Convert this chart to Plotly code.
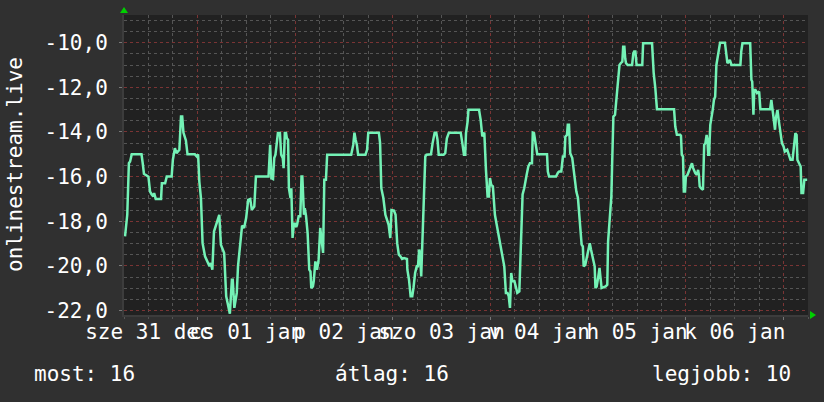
import pandas as pd
import plotly.graph_objects as go

# ---------------- data ----------------
START = "2025-12-31 06:00"
END = "2026-01-07 06:00"

HOURS = [
    0.25, 0.5, 0.8, 1.2, 1.5, 1.9, 4.3, 4.6, 4.9, 6.0, 6.4, 6.8, 7.2, 7.4, 7.8, 9.1, 9.3, 10.1, 10.5, 11.7,
    12.0, 12.5, 12.9, 13.6, 14.0, 14.3, 14.6, 15.2, 15.6, 17.4, 17.9, 18.2, 18.5, 18.9, 19.3, 19.9, 20.6,
    21.0, 21.3, 21.7, 22.1, 22.8, 23.4, 23.8, 24.6, 25.1, 25.6, 26.0, 26.5, 26.7, 27.1, 27.7, 28.0, 28.5,
    29.0, 29.5, 30.0, 30.5, 31.0, 31.4, 32.0, 32.4, 34.6,
    35.5, 35.9, 36.2, 36.6, 36.9, 37.2, 37.6, 37.8, 38.3, 38.6, 39.0, 39.2, 39.5, 39.8, 40.0, 40.3, 40.5,
    40.9, 41.1, 41.4, 41.7, 41.9, 42.3, 42.5, 42.9, 43.3, 43.6, 43.8, 44.2, 44.4, 44.7, 45.1, 45.5, 45.8,
    46.0, 46.4, 46.6, 47.0, 47.4, 47.8, 48.2, 48.6, 48.9, 49.2, 49.6, 49.9, 55.8, 56.3, 56.6, 56.9, 57.2,
    57.5, 59.3, 59.7, 60.0, 62.6, 62.9, 63.2, 63.7, 64.2, 64.7, 65.0, 65.4, 65.7, 66.3, 66.7, 67.1, 67.5,
    67.9, 68.3,
    68.8, 69.5, 69.6, 70.0, 70.4, 70.8, 71.1, 71.5, 71.9, 72.2, 72.5, 72.7, 73.0, 73.3, 73.5, 74.0, 74.3,
    75.4, 75.8, 76.3, 76.7, 77.0, 77.3, 78.5, 78.9, 79.3, 79.8, 82.7, 83.1, 83.5, 83.8, 84.0, 84.4, 84.6,
    87.2, 87.6, 88.0, 88.5, 88.9, 89.3, 89.6, 89.9, 90.2, 90.6, 91.1, 91.6, 92.0, 92.4, 93.0, 93.4, 93.8,
    94.2, 94.5, 94.8, 95.1, 95.4, 95.9, 96.2, 96.6, 97.1, 97.5, 97.9, 98.3, 98.7, 98.9, 99.3, 99.7, 100.2,
    100.4, 100.7, 101.2, 101.5, 103.9, 104.1, 104.4,
    106.1, 106.6, 106.9, 107.4, 107.8, 108.2, 108.4, 108.8, 109.0, 109.3, 109.6, 110.1, 110.4, 110.8,
    111.1, 111.5, 111.9, 112.4, 112.7, 112.9, 113.3, 113.7, 114.0, 114.4, 114.7, 115.2, 115.6, 115.8,
    116.1, 116.5, 116.8, 117.0, 117.3, 118.3, 118.7, 118.9, 119.2, 119.7, 119.9, 120.2, 120.6, 120.9,
    121.1, 121.4, 121.7, 122.0, 122.4, 122.6, 122.9, 123.1, 123.3, 123.7, 124.8, 125.1, 125.3, 125.6,
    125.9, 127.3, 127.5, 129.7, 130.1, 130.5, 130.9, 135.1, 135.4, 135.8, 136.6,
    136.8, 137.0, 137.3, 137.5, 137.8, 138.0, 138.4, 138.8, 139.2, 139.5, 139.8, 140.3, 140.7, 141.0,
    141.2, 141.4, 141.7, 142.0, 142.2, 142.5, 142.8, 143.1, 143.3, 143.5, 143.7, 144.0, 144.3, 144.6,
    144.9, 145.2, 145.5, 145.8, 146.1, 146.4, 147.6, 148.0, 148.2, 148.6, 148.8, 149.2, 151.4, 151.6,
    151.9, 153.8, 154.1, 154.3, 154.6, 154.8, 155.1, 155.5, 156.0, 156.3, 158.7, 159.0, 159.3, 159.5,
    159.9, 160.1, 160.5, 160.8, 161.2, 161.6, 162.0, 162.3, 162.9, 163.3, 163.7, 164.2, 164.6, 164.9,
    165.2, 165.4, 165.8, 166.2, 166.4, 166.8, 167.1, 167.4, 167.8,
]

VALUES = [
    -18.68, -18.2, -17.71, -15.4, -15.32, -15.0, -15.0, -15.4, -15.87, -16.0, -16.67, -16.8, -16.89, -16.74,
    -17.0, -17.0, -16.3, -16.3, -16.0, -16.0, -15.25, -14.73, -14.95, -14.8, -13.31, -13.31, -14.03, -14.38,
    -15.0, -15.0, -15.1, -15.0, -16.22, -16.96, -18.98, -19.57, -19.87, -20.02, -19.87, -20.17, -18.46,
    -18.0, -17.71, -19.05, -19.42, -21.36, -21.81, -22.14, -20.62, -20.62, -21.88, -21.21, -20.02, -19.13,
    -18.2, -18.3, -17.86, -17.04, -17.0, -17.49, -17.34, -16.0, -16.0,
    -16.0, -14.58, -16.07, -16.11, -15.17, -15.02, -14.5, -14.05, -14.05, -15.02, -15.17, -15.62, -14.05,
    -14.05, -14.28, -14.35, -16.52, -16.96, -16.52, -18.75, -18.16, -18.08, -18.26, -18.16, -17.78, -17.78,
    -16.0, -16.0, -17.71, -17.41, -17.75, -18.53, -20.17, -20.25, -20.99, -20.92, -20.69, -19.8, -20.17,
    -19.72, -18.3, -18.98, -19.42, -16.14, -16.14, -15.02, -15.02, -14.58, -14.03, -14.35, -14.58, -15.02,
    -15.02, -14.8, -14.03, -14.03, -14.5, -16.52, -16.96, -17.71, -18.0, -18.16, -18.75, -17.5, -17.52,
    -17.71, -18.98, -19.5, -19.57, -19.69,
    -19.65, -19.69, -20.17, -20.62, -21.36, -21.36, -20.99, -20.32, -20.02, -20.02, -19.27, -19.42, -20.47,
    -18.83, -17.41, -15.1, -15.02, -15.0, -14.5, -14.03, -14.03, -14.35, -15.02, -15.02, -14.95, -14.28,
    -14.03, -14.03, -14.5, -15.02, -15.02, -14.05, -13.53, -13.01, -13.01, -13.46, -14.2, -14.03, -15.7,
    -16.89, -16.89, -16.07, -16.37, -16.44, -17.71, -18.23, -18.53, -18.98, -19.72, -20.02, -21.21, -21.21,
    -21.36, -21.88, -20.32, -20.69, -20.69, -20.92, -21.21, -21.14, -18.98, -16.8, -16.52, -16.0, -15.92,
    -15.55, -15.4, -15.4, -14.03, -14.05, -14.73, -15.0, -15.0, -15.77, -16.0,
    -16.0, -15.82, -15.77, -15.77, -15.1, -15.1, -14.21, -14.13, -13.68, -13.68, -14.95, -15.17, -15.62,
    -16.07, -16.67, -16.96, -17.93, -19.05, -19.13, -20.02, -19.95, -19.57, -19.27, -18.98, -19.27, -19.72,
    -20.02, -20.99, -20.92, -20.47, -20.09, -20.47, -20.99, -20.92, -20.84, -18.9, -18.08, -16.89, -15.4,
    -13.31, -13.23, -12.56, -12.12, -11.3, -11.0, -10.92, -10.85, -10.18, -10.18, -10.7, -10.92, -11.0,
    -11.0, -10.47, -10.4, -10.4, -11.0, -11.0, -10.03, -10.03, -11.37, -12.04, -12.98, -12.98, -13.76,
    -14.13, -14.13,
    -14.17, -15.02, -15.1, -16.67, -16.67, -16.0, -15.92, -15.7, -15.47, -15.4, -15.62, -15.84, -15.92,
    -15.7, -15.92, -16.44, -16.52, -16.57, -16.59, -14.58, -14.5, -14.13, -14.35, -15.02, -15.02, -13.68,
    -13.38, -13.01, -12.56, -12.42, -11.0, -10.63, -10.47, -10.0, -10.0, -10.47, -10.92, -10.85, -10.77,
    -11.0, -11.0, -10.4, -10.03, -10.03, -11.67, -11.74, -13.23, -12.12, -12.12, -12.26, -12.19, -12.98,
    -12.98, -12.56, -12.98, -13.31, -13.9, -13.38, -13.01, -13.46, -13.98, -14.5, -14.65, -14.88, -14.8,
    -15.02, -15.25, -15.25, -14.65, -14.05, -14.13, -15.25, -15.4, -15.55, -16.74, -16.74, -16.14, -16.14,
    -16.14,
]

DAY_LABEL_DATES = ["2025-12-31", "2026-01-01", "2026-01-02", "2026-01-03",
                   "2026-01-04", "2026-01-05", "2026-01-06"]
DAY_LABELS = ["sze 31 dec", "cs 01 jan", "p 02 jan", "szo 03 jan",
              "v 04 jan", "h 05 jan", "k 06 jan"]

Y_TICKS = [-10, -12, -14, -16, -18, -20, -22]
Y_RANGE = [-22.2, -8.76]

SERIES_NAME = "onlinestream.live"
STAT_LABELS = ["most", "átlag", "legjobb"]
STAT_VALUES = [16, 16, 10]

# ---------------- build ----------------
FONT = "DejaVu Sans Mono"
FS = 21
TXT = "#ffffff"
PAPER = "#303030"
PLOTBG = "#212121"
MAJOR = "#7a3434"
MINOR = "#555555"
LINE = "#74f2b6"

t = pd.Timestamp(START) + pd.to_timedelta(HOURS, unit="h")
label_pos = [pd.Timestamp(d) + pd.Timedelta(hours=12) for d in DAY_LABEL_DATES]

fig = go.Figure()
fig.add_trace(go.Scatter(x=t, y=VALUES, mode="lines",
                         line=dict(color=LINE, width=2.5),
                         hoverinfo="skip", showlegend=False))
# carrier trace for the label axis
fig.add_trace(go.Scatter(x=label_pos, y=[None] * len(label_pos), xaxis="x2",
                         mode="lines", hoverinfo="skip", showlegend=False))

ms6h = 6 * 3600 * 1000
fig.update_layout(
    width=824, height=402,
    margin=dict(l=124, r=16, t=15, b=87),
    paper_bgcolor=PAPER, plot_bgcolor=PLOTBG,
    font=dict(family=FONT, size=FS, color=TXT),
    xaxis=dict(
        type="date", range=[START, END],
        tickmode="linear", tick0="2026-01-01", dtick=86400000,
        showgrid=True, gridcolor=MAJOR, griddash="dot", gridwidth=1,
        showticklabels=False, ticks="outside", ticklen=3, tickcolor="#777777",
        showline=True, linecolor="#3c3c3c", linewidth=2,
        zeroline=False,
        minor=dict(tickmode="linear", tick0="2026-01-01", dtick=ms6h,
                   showgrid=True, gridcolor=MINOR, griddash="dot", gridwidth=1,
                   ticks="outside", ticklen=2, tickcolor="#555555"),
    ),
    xaxis2=dict(
        type="date", overlaying="x", matches="x", side="bottom",
        tickmode="array", tickvals=label_pos, ticktext=DAY_LABELS,
        tickangle=0, showgrid=False, ticks="", zeroline=False, showline=False,
        tickfont=dict(family=FONT, size=FS, color=TXT), ticklabelstandoff=2,
    ),
    yaxis=dict(
        range=Y_RANGE,
        tickmode="array", tickvals=Y_TICKS,
        ticktext=[f"{v:.1f}".replace(".", ",") for v in Y_TICKS],
        showgrid=True, gridcolor=MAJOR, griddash="dot", gridwidth=1,
        ticks="outside", ticklen=3, tickcolor="#777777",
        showline=True, linecolor="#3c3c3c", linewidth=2,
        zeroline=False, ticklabelstandoff=7,
        minor=dict(tickmode="linear", tick0=0, dtick=0.5,
                   showgrid=True, gridcolor=MINOR, griddash="dot", gridwidth=1),
    ),
)

# y-axis title
fig.add_annotation(text=SERIES_NAME, xref="paper", yref="paper",
                   x=(15 - 124) / 684, y=0.5, textangle=-90,
                   showarrow=False, xanchor="center", yanchor="middle",
                   font=dict(family=FONT, size=FS, color=TXT))

# summary line
stat_x = [32, 333, 650]
for lab, val, px in zip(STAT_LABELS, STAT_VALUES, stat_x):
    fig.add_annotation(text=f"{lab}: {val}", xref="paper", yref="paper",
                       x=(px - 124) / 684, y=(315 - 374) / 300,
                       showarrow=False, xanchor="left", yanchor="middle",
                       font=dict(family=FONT, size=FS, color=TXT))

# green arrow heads at axis ends
fig.add_shape(type="path", xref="paper", yref="paper",
              xsizemode="pixel", ysizemode="pixel", xanchor=0, yanchor=1,
              path="M -4,2 L 4,2 L 0,8 Z", fillcolor="#00d000", line=dict(width=0))
fig.add_shape(type="path", xref="paper", yref="paper",
              xsizemode="pixel", ysizemode="pixel", xanchor=1, yanchor=0,
              path="M 2,-4 L 2,4 L 8,0 Z", fillcolor="#00d000", line=dict(width=0))

fig.write_html("out.html",
               config={"displayModeBar": False},
               post_script="document.body.style.margin='0';document.body.style.padding='0';"
                           "document.body.style.overflow='hidden';")
